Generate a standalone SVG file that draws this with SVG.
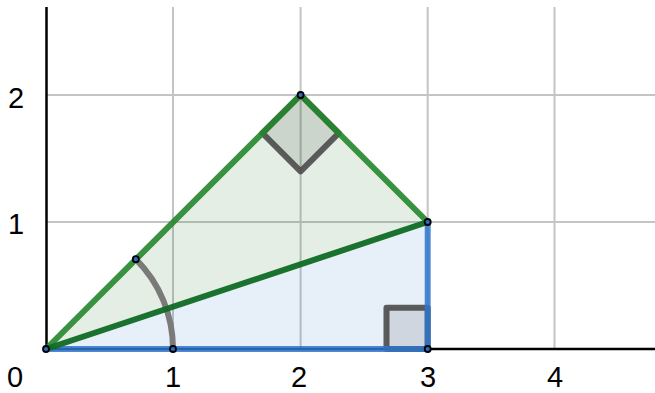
<svg xmlns="http://www.w3.org/2000/svg" width="655" height="393" viewBox="0 0 655 393">
<style>
.grid{stroke:#c4c4c4;stroke-width:2;fill:none}
.axis{stroke:#000;stroke-width:2.5;fill:none}
.lbl{font-family:"Liberation Sans",Arial,sans-serif;font-size:29px;fill:#000;text-anchor:middle}
.sq{fill:#000;fill-opacity:0.1;stroke:#4a4a4a;stroke-opacity:0.9;stroke-width:6;stroke-linejoin:round}
.g{stroke:#24862b;stroke-opacity:0.9;stroke-width:6;stroke-linecap:round;fill:none}
.dg{stroke:#0f6a24;stroke-opacity:0.95;stroke-width:6;stroke-linecap:round;fill:none}
.b{stroke:#2f74cc;stroke-opacity:0.85;stroke-width:6;stroke-linecap:butt;fill:none}
.pt{fill:#2a6fc0;stroke:#000;stroke-width:1.8}
</style>
<g id="grid">
<line class="grid" x1="173" y1="7" x2="173" y2="349"/>
<line class="grid" x1="300.6" y1="7" x2="300.6" y2="349"/>
<line class="grid" x1="427.7" y1="7" x2="427.7" y2="349"/>
<line class="grid" x1="554.5" y1="7" x2="554.5" y2="349"/>
<line class="grid" x1="46" y1="222" x2="655" y2="222"/>
<line class="grid" x1="46" y1="95" x2="655" y2="95"/>
</g>
<g id="axes">
<line class="axis" x1="46.5" y1="7" x2="46.5" y2="349"/>
<line class="axis" x1="46" y1="349" x2="655" y2="349"/>
</g>
<g id="labels">
<text class="lbl" x="15" y="387">0</text>
<text class="lbl" x="173" y="387">1</text>
<text class="lbl" x="299" y="387">2</text>
<text class="lbl" x="428" y="387">3</text>
<text class="lbl" x="555" y="387">4</text>
<text class="lbl" x="16" y="234">1</text>
<text class="lbl" x="16" y="108">2</text>
</g>
<g id="blue-triangle">
<polygon points="46,349 427.7,349 427.7,222" fill="#1565c0" fill-opacity="0.1"/>
</g>
<g id="green-triangle">
<polygon points="46,349 300.6,95 427.7,222" fill="#2e7d32" fill-opacity="0.13"/>
</g>
<g id="right-angle-top">
<polygon class="sq" points="300.6,95 262.4,133.2 300.6,171.4 338.8,133.2"/>
</g>
<g id="right-angle-bottom">
<polygon class="sq" points="427.7,349 386.5,349 386.5,307.8 427.7,307.8"/>
</g>
<g id="angle-arc">
<path d="M173,349 A127,127 0 0 0 135.8,259.2" fill="none" stroke="#7a7a7a" stroke-width="6"/>
</g>
<g id="connectors">
<line class="b" x1="46" y1="349" x2="427.7" y2="349"/>
<line class="b" x1="427.7" y1="349" x2="427.7" y2="222"/>
<line class="g" x1="46" y1="349" x2="300.6" y2="95"/>
<line class="g" x1="300.6" y1="95" x2="427.7" y2="222"/>
<line class="dg" x1="46" y1="349" x2="427.7" y2="222"/>
</g>
<g id="points">
<circle class="pt" cx="46" cy="349" r="3"/>
<circle class="pt" cx="173" cy="349" r="3"/>
<circle class="pt" cx="135.8" cy="259.2" r="3"/>
<circle class="pt" cx="300.6" cy="95" r="3"/>
<circle class="pt" cx="427.7" cy="222" r="3"/>
<circle class="pt" cx="427.7" cy="349" r="3"/>
</g>
</svg>
